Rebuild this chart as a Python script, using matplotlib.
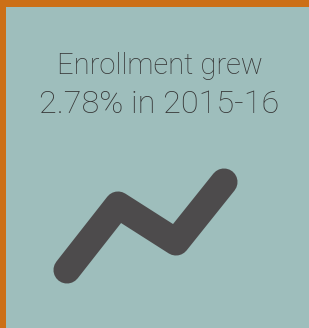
import matplotlib
matplotlib.use("Agg")
import matplotlib.pyplot as plt
from matplotlib.patches import Rectangle

# headline text
headline = ["Enrollment grew", "2.78% in 2015-16"]

# trend sketch (relative values)
trend_x = [0, 51, 109, 157]
trend_y = [0, 65, 28, 88]

bg_color = "#9ebebc"
border_color = "#cc6f17"
ink = "#4d4b4c"

W, H = 309, 328
fig = plt.figure(figsize=(W / 100, H / 100), dpi=100)
fig.patch.set_facecolor(bg_color)

# frame axes in pixel coords
ax = fig.add_axes([0, 0, 1, 1])
ax.set_xlim(0, W)
ax.set_ylim(H, 0)
ax.axis("off")
ax.add_patch(Rectangle((0, 0), W, 7, color=border_color, lw=0))
ax.add_patch(Rectangle((0, 0), 6, H, color=border_color, lw=0))

ax.text(160, 74, headline[0], ha="center", va="baseline", fontsize=21,
        family="Roboto", fontweight="light", color="#363636")
ax.text(159, 113, headline[1], ha="center", va="baseline", fontsize=23.3,
        family="Roboto", fontweight="light", color="#363636")

# trend line axes: points span x 67..224, y 270..182 px
x0, x1 = 67, 224
y0, y1 = 270, 182
tax = fig.add_axes([x0 / W, 1 - y0 / H, (x1 - x0) / W, (y0 - y1) / H])
tax.set_xlim(min(trend_x), max(trend_x))
tax.set_ylim(min(trend_y), max(trend_y))
tax.axis("off")
tax.plot(trend_x, trend_y, color=ink, lw=19.5, solid_capstyle="round",
         solid_joinstyle="round", clip_on=False)

fig.savefig("out.png", dpi=100, facecolor=bg_color)
